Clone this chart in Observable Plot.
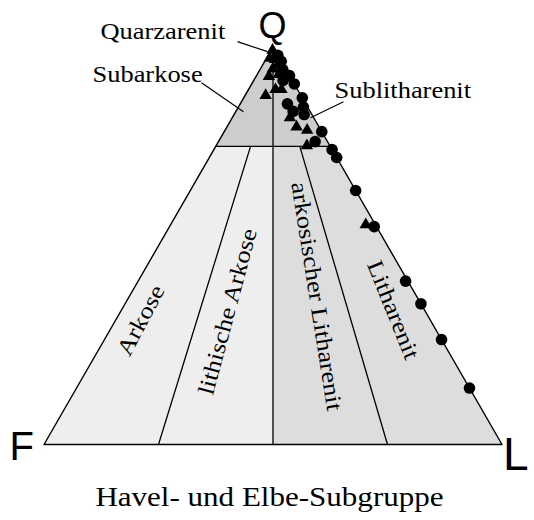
<!DOCTYPE html>
<html>
<head>
<meta charset="utf-8">
<script src="https://cdn.jsdelivr.net/npm/d3@7"></script>
<script src="https://cdn.jsdelivr.net/npm/@observablehq/plot@0.6"></script>
<style>
  body { margin: 0; background: #fff; }
</style>
</head>
<body>
<div id="chart"></div>
<script>
// Sample compositions in percent: quartz Q and feldspar F (lithics L = 100 - Q - F)
const circleQ = [97.9, 96.4, 94.3, 92.8, 91.6, 90.7, 87.2, 85.7, 84.9, 83.8, 83.0, 78.7, 76.2, 74.2, 72.2, 63.9, 54.8, 41.1, 35.4, 26.4, 14.2];
const circleF = [0.0, 0.0, 0.7, 0.0, 2.0, 0.0, 0.0, 4.0, 0.9, 3.7, 1.7, 0.0, 2.7, 0.0, 0.0, 0.0, 0.5, 0.5, 0.0, 0.0, 0.0];
const triangleQ = [99.2, 97.2, 96.9, 95.5, 94.5, 93.1, 92.6, 89.3, 89.3, 87.8, 82.2, 79.9, 79.1, 75.2, 55.3];
const triangleF = [0.5, 2.1, 1.1, 1.2, 2.8, 2.2, 4.6, 4.8, 3.5, 7.7, 5.2, 4.9, 3.0, 5.0, 2.1];

// Folk classification fields, vertices as [Q, F, L]
const fieldTop = [[100, 0, 0], [75, 25, 0], [75, 0, 25]];
const fieldArkose = [[75, 25, 0], [75, 12.5, 12.5], [0, 50, 50], [0, 100, 0]];
const fieldLitharenite = [[75, 12.5, 12.5], [75, 0, 25], [0, 0, 100], [0, 50, 50]];

// Boundary lines
const outline = [[100, 0, 0], [0, 100, 0], [0, 0, 100], [100, 0, 0]];
const lineQ75 = [[75, 25, 0], [75, 0, 25]];
const lineCentre = [[100, 0, 0], [0, 50, 50]];
const lineLeft = [[75, 17.4, 7.6], [0, 75, 25]];
const lineRight = [[75, 6.65, 18.35], [0, 25, 75]];

// Field names inside the triangle: [Q, F, L] anchor and rotation
const innerLabels = ["Arkose", "lithische Arkose", "arkosischer Litharenit", "Litharenit"];
const innerAnchors = [[30.4, 62.3, 7.3], [33.0, 41.9, 25.1], [37.0, 23.5, 39.5], [33.2, 8.6, 58.2]];
const innerRotate = [-62, -75, 81, 68];

// Field names outside the triangle with leader lines (plot units, side length = 1)
const outerLabels = ["Quarzarenit", "Subarkose", "Sublitharenit"];
const outerPos = [[0.1234, 0.8843], [0.1059, 0.7904], [0.6343, 0.7555]];
const leaderFrom = [[0.4225, 0.8777], [0.3439, 0.7882], [0.6539, 0.7467]];
const leaderTo = [[0.488, 0.8559], [0.4356, 0.7249], [0.5819, 0.7118]];

const title = "Havel- und Elbe-Subgruppe";

const H3 = Math.sqrt(3) / 2;
function tern([q, f, l]) {
  const s = q + f + l;
  return {x: (l + q / 2) / s, y: (q / s) * H3};
}
const poly = (pts) => pts.map(tern);

const circles = circleQ.map((q, i) => tern([q, circleF[i], 100 - q - circleF[i]]));
const triangles = triangleQ.map((q, i) => tern([q, triangleF[i], 100 - q - triangleF[i]]));

const outer = outerLabels.map((t, i) => ({text: t, x: outerPos[i][0], y: outerPos[i][1]}));
const leaders = outerLabels.map((t, i) => ({x1: leaderFrom[i][0], y1: leaderFrom[i][1], x2: leaderTo[i][0], y2: leaderTo[i][1]}));

const serif = "Liberation Serif, Times New Roman, serif";
const sans = "Liberation Sans, Arial, sans-serif";
const lineStyle = {x: "x", y: "y", stroke: "#000", strokeWidth: 1.3};

// one text mark per field name, each with its own rotation
const innerMarks = innerLabels.map((t, i) => {
  const p = tern(innerAnchors[i]);
  return Plot.text([t], {x: () => p.x, y: () => p.y, text: d => d, rotate: innerRotate[i], fontFamily: serif, fontSize: 23, fill: "#000"});
});

const chart = Plot.plot({
  width: 534,
  height: 520,
  marginLeft: 43.5,
  marginRight: 32.5,
  marginTop: 46.5,
  marginBottom: 76,
  x: {domain: [0, 1], axis: null},
  y: {domain: [0, H3], axis: null},
  style: {background: "#fff", overflow: "visible"},
  marks: [
    Plot.line(poly(fieldTop), {x: "x", y: "y", fill: "#cdcdcd", stroke: "none", curve: "linear-closed"}),
    Plot.line(poly(fieldArkose), {x: "x", y: "y", fill: "#eeeeee", stroke: "none", curve: "linear-closed"}),
    Plot.line(poly(fieldLitharenite), {x: "x", y: "y", fill: "#dddddd", stroke: "none", curve: "linear-closed"}),
    Plot.line(poly(lineQ75), lineStyle),
    Plot.line(poly(lineCentre), lineStyle),
    Plot.line(poly(lineLeft), lineStyle),
    Plot.line(poly(lineRight), lineStyle),
    Plot.line(poly(outline), {...lineStyle, strokeWidth: 1.4}),
    Plot.link(leaders, {x1: "x1", y1: "y1", x2: "x2", y2: "y2", stroke: "#000", strokeWidth: 1.2}),
    ...innerMarks,
    Plot.text(outer, {x: "x", y: "y", text: "text", textAnchor: "start", lineAnchor: "bottom", fontFamily: serif, fontSize: 23, fill: "#000"}),
    Plot.text([title], {x: () => 0.4923, y: () => -0.1332, text: d => d, lineAnchor: "bottom", fontFamily: serif, fontSize: 27, fill: "#000"}),
    Plot.text(["Q"], {x: () => 0.4989, y: () => 0.8865, text: d => d, lineAnchor: "bottom", fontFamily: sans, fontSize: 36, fill: "#000"}),
    Plot.text(["F"], {x: () => -0.0753, y: () => -0.0328, text: d => d, textAnchor: "start", lineAnchor: "bottom", fontFamily: sans, fontSize: 40, fill: "#000"}),
    Plot.text(["L"], {x: () => 1.0022, y: () => -0.0559, text: d => d, textAnchor: "start", lineAnchor: "bottom", fontFamily: sans, fontSize: 46, fill: "#000"}),
    Plot.dot(triangles, {x: "x", y: "y", symbol: "triangle", r: 4.6, fill: "#000", stroke: "none"}),
    Plot.dot(circles, {x: "x", y: "y", symbol: "circle", r: 5.8, fill: "#000", stroke: "none"})
  ]
});

document.getElementById("chart").append(chart);

// The serif lettering is set wide: stretch each label along its own baseline
const svg = chart.tagName.toLowerCase() === "svg" ? chart : chart.querySelector("svg");
svg.querySelectorAll('g[font-family^="Liberation Serif"] text').forEach(t => {
  const list = t.transform.baseVal;
  const c = list.numberOfItems ? list.consolidate() : null;
  let m = c ? c.matrix : svg.createSVGMatrix();
  const x = parseFloat(t.getAttribute("x")) || 0;
  const y = parseFloat(t.getAttribute("y")) || 0;
  t.removeAttribute("x");
  t.removeAttribute("y");
  m = m.translate(x, y).scaleNonUniform(1.15, 1);
  t.setAttribute("transform", `matrix(${m.a},${m.b},${m.c},${m.d},${m.e},${m.f})`);
});
</script>
</body>
</html>
